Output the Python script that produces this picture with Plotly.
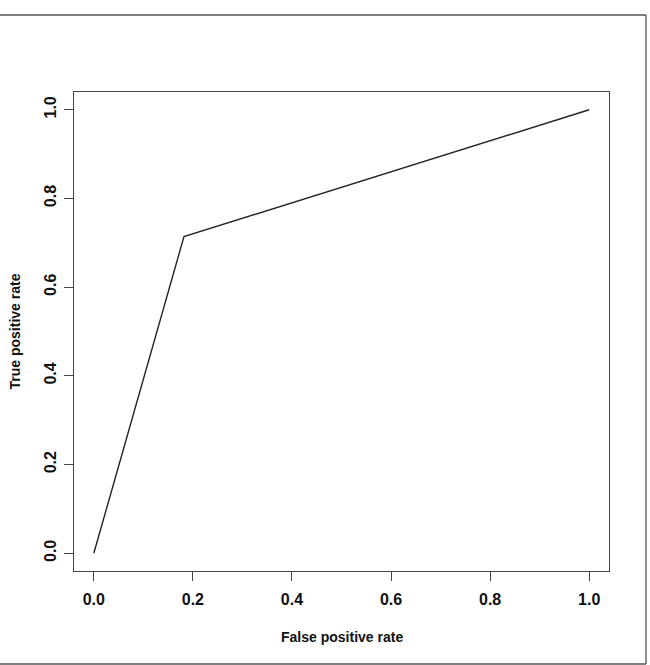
import plotly.graph_objects as go

fpr = [0.0, 0.182, 1.0]
tpr = [0.0, 0.714, 1.0]
tick_vals = [0.0, 0.2, 0.4, 0.6, 0.8, 1.0]
tick_text = ["0.0", "0.2", "0.4", "0.6", "0.8", "1.0"]
x_title = "False positive rate"
y_title = "True positive rate"

L, R, T, B = 74, 41, 92, 94
W, H = 650, 665
pw, ph = W - L - R, H - T - B

def px2x(p):
    return (p - L) / pw

def py2y(p):
    return (H - B - p) / ph

font = "Liberation Sans, Arial, sans-serif"
axcol = "#444444"

fig = go.Figure()
fig.add_trace(go.Scatter(x=fpr, y=tpr, mode="lines",
                         line=dict(color="#222222", width=1.4),
                         hoverinfo="skip", showlegend=False))

common = dict(
    tickvals=tick_vals, ticktext=tick_text,
    ticks="outside", ticklen=9, tickwidth=1, tickcolor=axcol,
    showline=True, linecolor=axcol, linewidth=1.3, mirror=True,
    showgrid=False, zeroline=False,
    tickfont=dict(family=font, size=16, color="#111111", weight="bold"),
    range=[-0.04, 1.04],
)
fig.update_xaxes(**common, ticklabelstandoff=5)
fig.update_yaxes(**common, tickangle=-90, ticklabelstandoff=1)

fig.update_layout(
    width=W, height=H,
    margin=dict(l=L, r=R, t=T, b=B, pad=0),
    paper_bgcolor="white", plot_bgcolor="white",
    showlegend=False,
)

fig.add_annotation(text=x_title, xref="paper", yref="paper",
                   x=px2x(341.5), y=py2y(637), showarrow=False,
                   xanchor="center", yanchor="middle",
                   font=dict(family=font, size=14, color="#111111", weight="bold"))
fig.add_annotation(text=y_title, xref="paper", yref="paper",
                   x=px2x(14), y=py2y(331.5), showarrow=False, textangle=-90,
                   xanchor="center", yanchor="middle",
                   font=dict(family=font, size=14, color="#111111", weight="bold"))

# outer frame (top, right, bottom)
fc = "#555555"
fig.add_shape(type="line", xref="paper", yref="paper",
              x0=px2x(0), x1=px2x(646), y0=py2y(15), y1=py2y(15),
              line=dict(color=fc, width=1.3))
fig.add_shape(type="line", xref="paper", yref="paper",
              x0=px2x(646), x1=px2x(646), y0=py2y(15), y1=py2y(664),
              line=dict(color=fc, width=1.3))
fig.add_shape(type="line", xref="paper", yref="paper",
              x0=px2x(0), x1=px2x(646), y0=py2y(664), y1=py2y(664),
              line=dict(color=fc, width=1.3))

fig.write_html("out.html")
